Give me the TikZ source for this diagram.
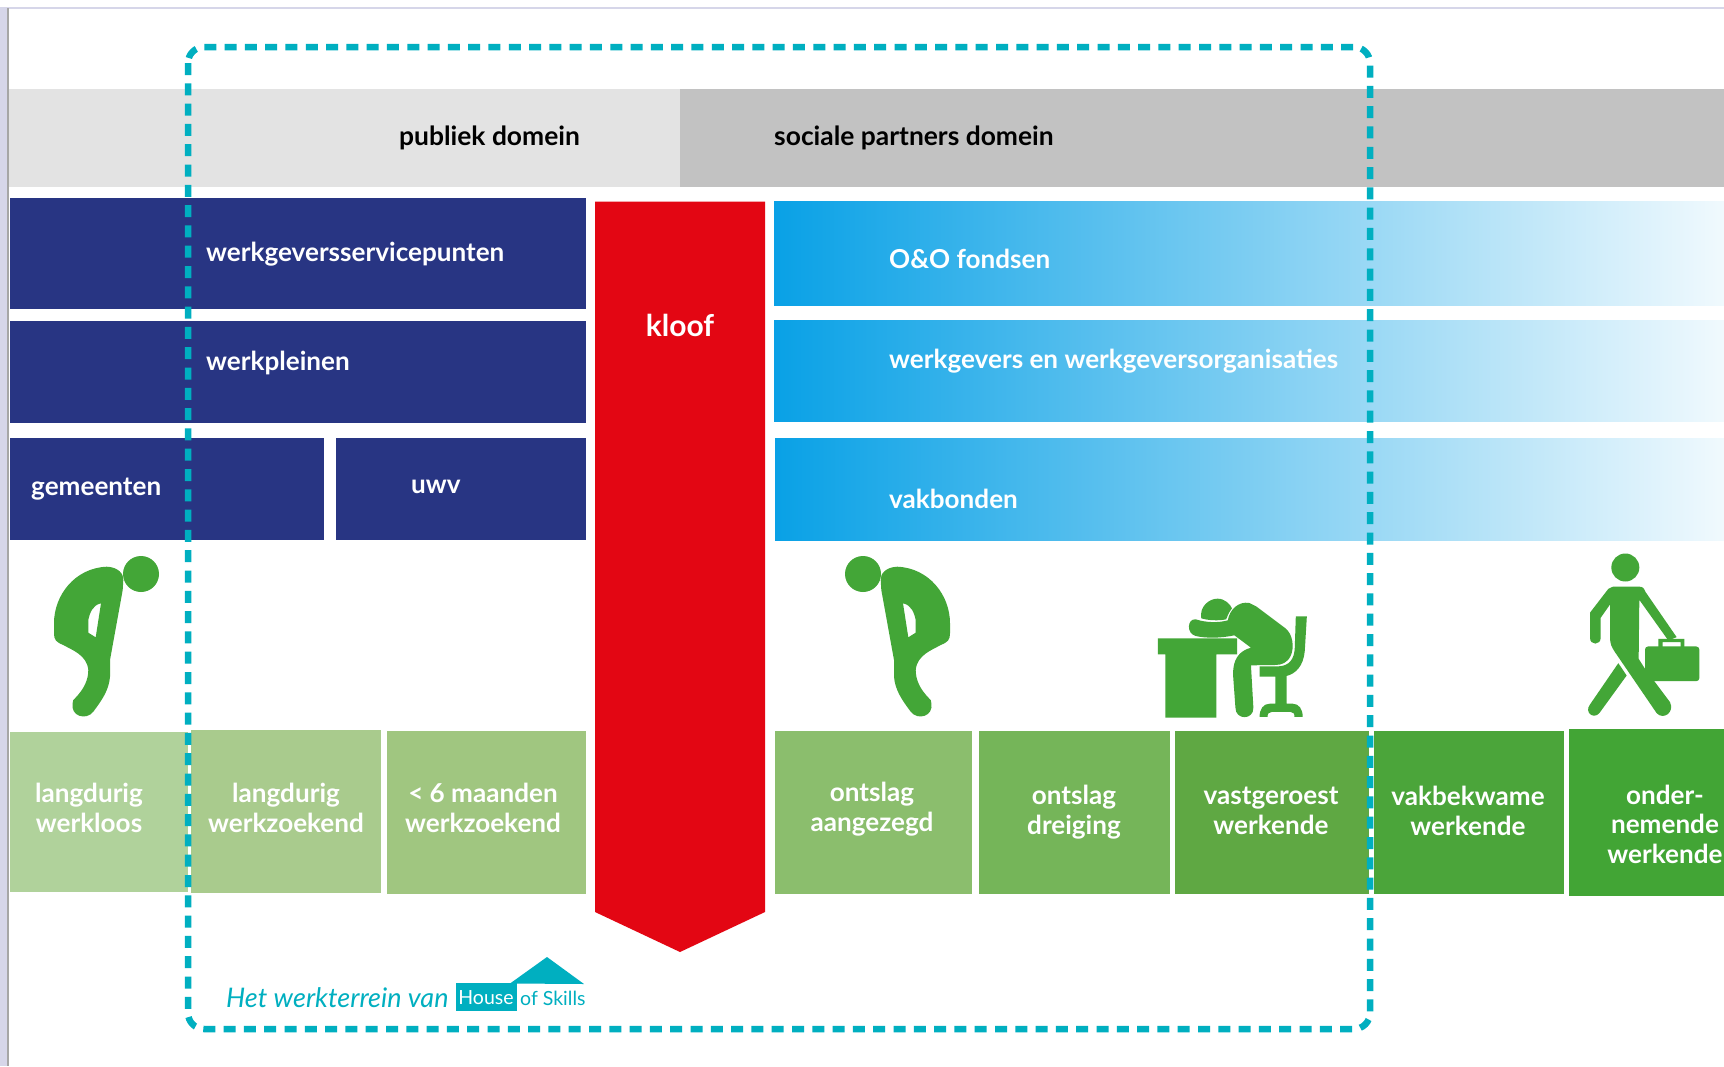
\documentclass[tikz,border=0pt]{standalone}
\usepackage{xcolor}
\usepackage{fontspec}
\setmainfont{Lato}

\definecolor{navyblue}{HTML}{283583}
\definecolor{kloofred}{HTML}{E30613}
\definecolor{skyblue}{HTML}{09A1E6}
\definecolor{figgreen}{HTML}{43A637}
\definecolor{hosteal}{HTML}{00AFC0}

\tikzset{
  whitelabel/.style={text=white,font=\bfseries\fontsize{26.1}{29.5}\selectfont,inner sep=0pt},
  headlabel/.style={text=black,font=\bfseries\fontsize{26.4}{29.5}\selectfont,inner sep=0pt},
  greenlabel/.style={whitelabel,align=center},
  fadebar/.style={left color=skyblue,middle color=skyblue!58!white,right color=skyblue!6!white},
  bentperson/.pic={
    \fill[figgreen] (141,574) circle (18);
    \fill[figgreen,even odd rule] (106.7,566.7) .. controls (118,567) and (124,574) .. (123.3,580)
      -- (122.7,590) -- (110,660) -- (110,676.7) .. controls (109,690) and (102,700) .. (93.3,711.7)
      .. controls (86,721) and (70,716) .. (72.7,703) .. controls (73,700) .. (75,698.3)
      .. controls (84,689) and (88.3,680) .. (88.3,670) .. controls (87,655) and (72,650) .. (63.3,645)
      .. controls (56,642) and (54,640) .. (54,633.3) -- (54,623.3) .. controls (54,595) and (75,568) .. (106.7,566.7) -- cycle
      (101,603.3) -- (95.7,637.3) -- (88.3,632.7) -- (88.3,620) .. controls (90,612) and (93,605) .. (101,603.3) -- cycle;
  }
}

\begin{document}
\begin{tikzpicture}[x=1pt,y=-1pt]
    \useasboundingbox (0,0) rectangle (1724,1066);

    % Window edge
    \fill[white] (0,0) rectangle (1724,1066);
    \fill[blue!30!gray!25] (0,7) rectangle (1724,8.5);
    \fill[blue!30!gray!25] (0,8) rectangle (7,1066);
    \fill[gray!70] (7,8) rectangle (9,1066);

    % Domain bars
    \fill[gray!22] (9,88.5) rectangle (680,186.5);
    \fill[gray!48] (680,88.5) rectangle (1724,186.5);
    \node[headlabel,anchor=west] (publiek) at (399,137.5) {publiek domein};
    \node[headlabel,anchor=west] (sociaal) at (774,137.5) {sociale partners domein};

    % Public side
    \fill[navyblue] (9.5,198) rectangle (585.5,309);
    \fill[navyblue] (9.5,321) rectangle (585.5,423);
    \fill[navyblue] (9.5,438) rectangle (324,540);
    \fill[navyblue] (336,438) rectangle (585.5,540);
    \node[whitelabel,anchor=west] (wsp) at (206,254) {werkgeversservicepunten};
    \node[whitelabel,anchor=west] (werkpleinen) at (206,363) {werkpleinen};
    \node[whitelabel,anchor=west] (gemeenten) at (31,489) {gemeenten};
    \node[whitelabel,anchor=west] (uwv) at (411,487) {uwv};

    % Gap in the middle
    \fill[kloofred] (595,201.5) -- (765,201.5) -- (765,912) -- (680,952) -- (595,912) -- cycle;
    \node[whitelabel,font=\bfseries\fontsize{30}{36}\selectfont] (kloof) at (680,325) {kloof};

    % Social partner side
    \fill[fadebar] (774,201) rectangle (1724,305);
    \fill[fadebar] (774,320) rectangle (1724,421);
    \fill[fadebar] (775,438) rectangle (1724,540);
    \node[whitelabel,anchor=west] (oeno) at (889,259) {O\&O fondsen};
    \node[whitelabel,anchor=west] (werkgevers) at (889,361) {werkgevers en werkgeversorganisaties};
    \node[whitelabel,anchor=west] (vakbonden) at (889,499) {vakbonden};

    % Green boxes
    \foreach \xa/\ya/\xb/\yb/\col in {9.5/731.5/188/892/B0D29B,191/730/381/893/A9CB8D,387/730.5/585.5/894/A0C680,
        775/730.5/972/894/8BBE6D,979/730.5/1170/894/75B559,1175/730.5/1369/894/5FA843,
        1374/730.5/1564/894/4BA53A,1569/728.5/1724/895.5/42A535}{
        \definecolor{boxgreen}{HTML}{\col}
        \fill[boxgreen] (\xa,\ya) rectangle (\xb,\yb);
    }

    \node[greenlabel] (lwl) at (89,808) {langdurig\\werkloos};
    \node[greenlabel] (lwz) at (286,808) {langdurig\\werkzoekend};
    \node[greenlabel] (kwz) at (483,808) {< 6 maanden\\werkzoekend};
    \node[greenlabel] (oa) at (872,809) {ontslag\\aangezegd};
    \node[greenlabel] (od) at (1074,812) {ontslag\\dreiging};
    \node[greenlabel] (vg) at (1271,811) {vastgeroest\\werkende};
    \node[greenlabel] (vb) at (1468,811) {vakbekwame\\werkende};
    \node[greenlabel] (on) at (1665,824) {onder-\\nemende\\werkende};

    % Bent figures
    \pic at (0,0) {bentperson};
    \pic[transform shape,xshift=1004pt,xscale=-1] at (0,0) {bentperson};

    % Figure asleep at the desk
    \begin{scope}[shift={(799,531)},x=0.345pt,y=-0.3333pt,figgreen]
        \fill (1040,322) -- (1270,322) -- (1270,370) -- (1210,370) -- (1210,560) -- (1062,560) -- (1062,370) -- (1040,370) -- cycle;
        \fill (1166,262) .. controls (1160,225) and (1190,203) .. (1213,203) .. controls (1235,203) and (1250,220) .. (1255,232)
            .. controls (1245,245) and (1242,255) .. (1238,265) .. controls (1215,270) and (1185,268) .. (1166,262) -- cycle;
        \fill (1150,265) .. controls (1180,275) and (1215,276) .. (1243,268) .. controls (1248,235) and (1275,210) .. (1305,216)
            .. controls (1315,218) .. (1325,226) -- (1410,292) .. controls (1432,310) and (1436,350) .. (1425,375)
            .. controls (1415,395) and (1400,402) .. (1380,402) -- (1310,403) -- (1317,530)
            .. controls (1318,568) and (1265,568) .. (1265,530) -- (1258,430) .. controls (1258,385) and (1275,360) .. (1310,350)
            -- (1262,313) .. controls (1220,322) and (1180,322) .. (1150,315) .. controls (1122,308) and (1125,262) .. (1150,265) -- cycle;
        \fill (1440,256) -- (1472,256) -- (1466,360) .. controls (1462,405) and (1440,428) .. (1413,435) -- (1413,518)
            -- (1430,518) .. controls (1450,518) and (1460,535) .. (1460,558) -- (1436,558) .. controls (1436,548) and (1434,543) .. (1425,543)
            -- (1370,543) .. controls (1362,543) and (1358,548) .. (1358,558) -- (1335,558) .. controls (1335,535) and (1345,518) .. (1365,518)
            -- (1381,518) -- (1381,437) -- (1335,437) -- (1335,406) -- (1390,406) .. controls (1420,405) and (1436,385) .. (1437,350) -- cycle;
    \end{scope}

    % Figure with briefcase
    \begin{scope}[shift={(1480,530.5)},x=0.3333pt,y=-0.3333pt,figgreen]
        \fill (436,111) circle (14pt);
        \fill (400,168) -- (475,168) .. controls (490,170) .. (497,185) -- (590,320) -- (565,330) -- (478,208) -- (476,385)
            -- (495,415) -- (570,515) .. controls (585,545) and (550,570) .. (530,548) -- (405,365)
            .. controls (395,350) and (390,340) .. (390,320) -- (390,222) -- (362,262) -- (362,322)
            .. controls (362,345) and (330,345) .. (330,322) -- (330,255) .. controls (330,245) .. (335,240)
            -- (385,175) .. controls (390,170) .. (400,168) -- cycle;
        \fill (415,398) -- (440,435) -- (358,548) .. controls (340,568) and (312,545) .. (330,522) -- cycle;
        \fill[rounded corners=3pt] (495,348) rectangle (658,452);
        \fill[even odd rule] (535,325) rectangle (613,352) (548,335) rectangle (602,350);
    \end{scope}

    % Working area of the organisation
    \draw[hosteal,line width=6.5pt,rounded corners=16pt,dash pattern=on 12pt off 8.3pt] (188,47) rectangle (1370,1029);

    % Logo
    \node[text=hosteal,font=\itshape\fontsize{27}{32}\selectfont,inner sep=0pt,anchor=west] (werkterrein) at (226,998) {Het werkterrein van};
    \fill[hosteal] (456,983) rectangle (517,1011);
    \fill[hosteal] (510,983.5) -- (547,957) -- (584,984) -- cycle;
    \node[text=white,font=\fontsize{19.5}{24}\selectfont,inner sep=0pt] (house) at (486,998) {House};
    \node[text=hosteal,font=\fontsize{19.5}{24}\selectfont,inner sep=0pt,anchor=west] (skills) at (520,998) {of Skills};
\end{tikzpicture}
\end{document}
